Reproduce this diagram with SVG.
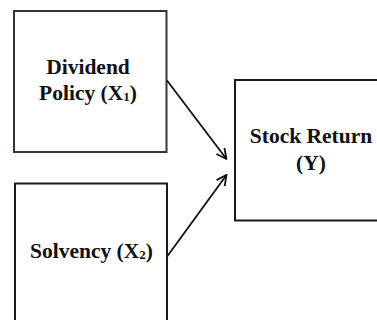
<svg xmlns="http://www.w3.org/2000/svg" width="377" height="320" viewBox="0 0 377 320">
  <style>
    .box { fill: #ffffff; stroke: #1a1a1a; stroke-width: 2; }
    .box-brown { stroke: #3b322d; }
    .label { font-family: "Liberation Serif", "Times New Roman", serif; font-weight: bold; font-size: 21.5px; fill: #111111; text-anchor: middle; }
    .sub { font-size: 13px; }
    .edge { fill: none; stroke: #111111; stroke-width: 1.8; }
  </style>
  <defs>
    <marker id="arrow" viewBox="0 0 12 12" refX="11" refY="6" markerWidth="12" markerHeight="12" markerUnits="userSpaceOnUse" orient="auto">
      <path d="M1,1 L11,6 L1,11" fill="none" stroke="#111111" stroke-width="1.8"/>
    </marker>
  </defs>
  <rect width="377" height="320" fill="#ffffff"/>

  <g id="dividend-policy">
    <rect class="box box-brown" x="14" y="11" width="152.5" height="141"/>
    <text class="label" x="88" y="74">Dividend</text>
    <text class="label" x="88" y="100">Policy (X<tspan class="sub" dy="1">1</tspan><tspan dy="-1">)</tspan></text>
  </g>

  <g id="solvency">
    <rect class="box" x="15" y="183.5" width="152" height="150"/>
    <text class="label" x="91.5" y="258">Solvency (X<tspan class="sub" dy="1">2</tspan><tspan dy="-1">)</tspan></text>
  </g>

  <g id="stock-return">
    <rect class="box" x="235" y="80" width="160" height="140.5"/>
    <text class="label" x="311" y="143">Stock Return</text>
    <text class="label" x="311" y="170">(Y)</text>
  </g>

  <g id="connectors">
    <line class="edge" x1="167" y1="80.5" x2="226.5" y2="159" marker-end="url(#arrow)"/>
    <line class="edge" x1="167.5" y1="256" x2="226.5" y2="175" marker-end="url(#arrow)"/>
  </g>
</svg>
